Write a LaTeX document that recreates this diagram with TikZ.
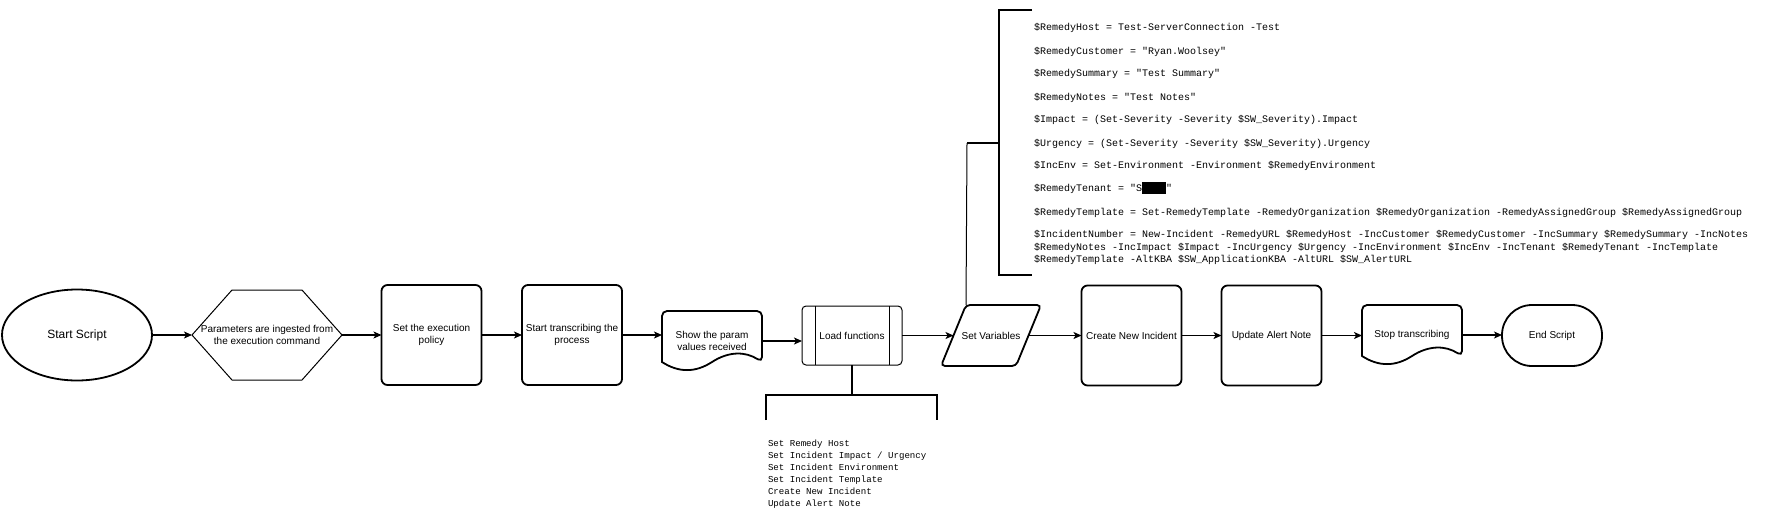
\documentclass[tikz,border=0pt]{standalone}
\usepackage{fontspec}
\setmainfont{Liberation Sans}
\newfontfamily\monof{Liberation Mono}
\usetikzlibrary{shapes.geometric,arrows.meta,calc}
\begin{document}
\begin{tikzpicture}[x=1pt,y=-1pt,
  every node/.style={inner sep=0pt, outer sep=0pt},
  thickline/.style={line width=1.8pt},
  pbox/.style={rectangle, draw, line width=1.8pt, rounded corners=6pt, minimum width=100pt, minimum height=100pt, align=center, font=\fontsize{10}{12}\selectfont},
  ghost/.style={rectangle, align=center, font=\fontsize{10}{12}\selectfont},
  arr/.style={line width=1.2pt, -{Stealth[length=8pt,width=7pt,inset=2pt]}},
  codeline/.style={anchor=base west, font=\monof\fontsize{10}{12}\selectfont},
  listline/.style={anchor=base west, font=\monof\fontsize{9.1}{12}\selectfont},
]
\useasboundingbox (0,0) rectangle (1772,520);

% main flow nodes
\node[ellipse, draw, line width=1.8pt, minimum width=150pt, minimum height=91pt, font=\fontsize{12}{14}\selectfont] (start) at (77,335) {Start Script};

\node[ghost, minimum width=150pt, minimum height=90pt] (hex) at (267,335) {Parameters are ingested from\\the execution command};
\draw[line width=1pt] (hex.west) -- ([xshift=40pt]hex.north west) -- ([xshift=-40pt]hex.north east) -- (hex.east) -- ([xshift=-40pt]hex.south east) -- ([xshift=40pt]hex.south west) -- cycle;

\node[pbox] (pol) at (431.5,335) {Set the execution\\policy};
\node[pbox] (tr) at (572,335) {Start transcribing the\\process};

\node[ghost, minimum width=100pt, minimum height=60pt] (show) at (712,341) {Show the param\\values received};
\draw[line width=1.8pt, rounded corners=5pt] ([yshift=9pt]show.south west) -- (show.north west) -- (show.north east) -- ([yshift=9pt]show.south east) [sharp corners] .. controls ([shift={(-16.67pt,19.8pt)}]show.south east) and ([shift={(-33.33pt,19.8pt)}]show.south east) .. ([yshift=9pt]show.south) .. controls ([shift={(-16.67pt,-1.8pt)}]show.south) and ([shift={(-33.33pt,-1.8pt)}]show.south) .. ([yshift=9pt]show.south west) -- cycle;

\node[pbox, line width=1pt, rounded corners=4pt, minimum height=59pt] (lf) at (852,335.5) {Load functions};
\draw[line width=1pt] ([xshift=13pt]lf.north west) -- ([xshift=13pt]lf.south west);
\draw[line width=1pt] ([xshift=-13pt]lf.north east) -- ([xshift=-13pt]lf.south east);

\node[ghost, minimum width=100pt, minimum height=61pt] (sv) at (991,335.5) {Set Variables};
\draw[line width=1.8pt, rounded corners=4pt] ([xshift=25pt]sv.north west) -- (sv.north east) -- ([xshift=-25pt]sv.south east) -- (sv.south west) -- cycle;
\coordinate (svin) at ($(sv.south west)!0.5!([xshift=25pt]sv.north west)$);
\coordinate (svout) at ($([xshift=-25pt]sv.south east)!0.5!(sv.north east)$);
\coordinate (svtop) at ([xshift=25pt]sv.north west);

\node[pbox] (cni) at (1131.5,335.5) {Create New Incident};
\node[pbox] (upd) at (1271.5,335.5) {Update Alert Note};

\node[ghost, minimum width=100pt, minimum height=60pt] (stop) at (1412,335) {Stop transcribing};
\draw[line width=1.8pt, rounded corners=5pt] ([yshift=9pt]stop.south west) -- (stop.north west) -- (stop.north east) -- ([yshift=9pt]stop.south east) [sharp corners] .. controls ([shift={(-16.67pt,19.8pt)}]stop.south east) and ([shift={(-33.33pt,19.8pt)}]stop.south east) .. ([yshift=9pt]stop.south) .. controls ([shift={(-16.67pt,-1.8pt)}]stop.south) and ([shift={(-33.33pt,-1.8pt)}]stop.south) .. ([yshift=9pt]stop.south west) -- cycle;

\node[pbox, minimum height=61pt, rounded corners=30pt] (fin) at (1552,335.5) {End Script};

% connectors
\draw[arr] (start.east) -- (hex.west);
\draw[arr] (hex.east) -- (pol.west);
\draw[arr] (pol.east) -- (tr.west);
\draw[arr] (tr.east) -- (tr.east -| show.west);
\draw[arr] (show.east) -- (show.east -| lf.west);
\draw[arr] (lf.east) -- (svin);
\draw[arr] (svout) -- (svout -| cni.west);
\draw[arr] (cni.east) -- (upd.west);
\draw[arr] (upd.east) -- (upd.east -| stop.west);
\draw[arr] (stop.east) -- (stop.east -| fin.west);

% top annotation
\coordinate (topstem) at (967,143);
\draw[thickline] (1032,10) -- (999,10) -- (999,275) -- (1032,275);
\draw[thickline] (999,143) -- (topstem);
\draw[line width=1pt] (svtop) -- (topstem);

\node[codeline] (t1) at (1034,30.8) {\$RemedyHost = Test-ServerConnection -Test};
\node[codeline] (t2) at (1034,54.2) {\$RemedyCustomer = "Ryan.Woolsey"};
\node[codeline] (t3) at (1034,76.8) {\$RemedySummary = "Test Summary"};
\node[codeline] (t4) at (1034,100.2) {\$RemedyNotes = "Test Notes"};
\node[codeline] (t5) at (1034,122.8) {\$Impact = (Set-Severity -Severity \$SW\_Severity).Impact};
\node[codeline] (t6) at (1034,146.2) {\$Urgency = (Set-Severity -Severity \$SW\_Severity).Urgency};
\node[codeline] (t7) at (1034,168.5) {\$IncEnv = Set-Environment -Environment \$RemedyEnvironment};
\node[codeline] (t8) at (1034,191.5) {\$RemedyTenant = "S\rule[-2.5pt]{24pt}{12pt}"};
\node[codeline] (t9) at (1034,215.2) {\$RemedyTemplate = Set-RemedyTemplate -RemedyOrganization \$RemedyOrganization -RemedyAssignedGroup \$RemedyAssignedGroup};
\node[codeline] (t10) at (1034,237.8) {\$IncidentNumber = New-Incident -RemedyURL \$RemedyHost -IncCustomer \$RemedyCustomer -IncSummary \$RemedySummary -IncNotes};
\node[codeline] (t11) at (1034,250.0) {\$RemedyNotes -IncImpact \$Impact -IncUrgency \$Urgency -IncEnvironment \$IncEnv -IncTenant \$RemedyTenant -IncTemplate};
\node[codeline] (t12) at (1034,262.2) {\$RemedyTemplate -AltKBA \$SW\_ApplicationKBA -AltURL \$SW\_AlertURL};

% bottom annotation
\coordinate (botstem) at (852,395);
\draw[thickline] (766,420) -- (766,395) -- (937,395) -- (937,420);
\draw[thickline] (lf.south) -- (botstem);

\node[listline] (b1) at (768,446.2) {Set Remedy Host};
\node[listline] (b2) at (768,458.3) {Set Incident Impact / Urgency};
\node[listline] (b3) at (768,470.4) {Set Incident Environment};
\node[listline] (b4) at (768,482.4) {Set Incident Template};
\node[listline] (b5) at (768,494.4) {Create New Incident};
\node[listline] (b6) at (768,506.5) {Update Alert Note};
\end{tikzpicture}
\end{document}
